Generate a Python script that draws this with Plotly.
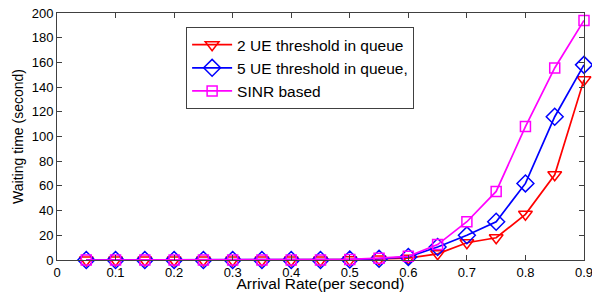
import plotly.graph_objects as go

arrival_rate = [0.05, 0.1, 0.15, 0.2, 0.25, 0.3, 0.35, 0.4, 0.45, 0.5, 0.55, 0.6, 0.65, 0.7, 0.75, 0.8, 0.85, 0.9]
ue2_threshold = [0, 0, 0, 0, 0, 0, 0, 0, 0, 0.3, 0.8, 1.5, 5, 14, 18, 37, 69, 146]
ue5_threshold = [0, 0, 0, 0, 0, 0, 0, 0, 0, 0.4, 1, 2.5, 10.5, 20, 31, 62, 116, 158]
sinr_based = [0, 0, 0, 0, 0, 0, 0, 0, 0, 0.5, 1.5, 3, 12.5, 31, 55.5, 108, 155.5, 194]

series_names = ["2 UE threshold in queue", "5 UE threshold in queue,", "SINR based"]
x_ticks = [0, 0.1, 0.2, 0.3, 0.4, 0.5, 0.6, 0.7, 0.8, 0.9]
x_tick_labels = ["0", "0.1", "0.2", "0.3", "0.4", "0.5", "0.6", "0.7", "0.8", "0.9"]
y_ticks = [0, 20, 40, 60, 80, 100, 120, 140, 160, 180, 200]

fig = go.Figure()
styles = [
    (ue2_threshold, "#ff0000", "triangle-down-open", 12),
    (ue5_threshold, "#0000ff", "diamond-open", 13),
    (sinr_based, "#ff00ff", "square-open", 10),
]
for (vals, color, sym, size), name in zip(styles, series_names):
    fig.add_trace(go.Scatter(
        x=arrival_rate, y=vals, name=name, mode="lines+markers",
        line=dict(color=color, width=1.7),
        marker=dict(symbol=sym, size=size, color=color, line=dict(color=color, width=1.5)),
        cliponaxis=False,
    ))

axis_common = dict(
    showgrid=False, zeroline=False, showline=True, linecolor="#404040", linewidth=1,
    mirror="ticks", ticks="inside", ticklen=5, tickcolor="#404040",
    tickfont=dict(size=13, color="#000000"), automargin=False,
    ticklabeloverflow="allow",
)
fig.update_layout(
    width=592, height=292,
    margin=dict(l=57, r=8, t=13, b=32),
    paper_bgcolor="white", plot_bgcolor="white",
    font=dict(family="Liberation Sans, Arial, sans-serif", size=13, color="#000000"),
    xaxis=dict(range=[0, 0.9], tickvals=x_ticks, ticktext=x_tick_labels,
               title=dict(text="Arrival Rate(per second)", font=dict(size=15.5), standoff=4),
               **axis_common),
    yaxis=dict(range=[0, 200], tickvals=y_ticks,
               title=dict(text="Waiting time (second)", font=dict(size=14), standoff=4),
               **axis_common),
    legend=dict(x=0.245, y=0.943, xanchor="left", yanchor="top",
                bgcolor="white", bordercolor="#404040", borderwidth=1,
                font=dict(size=15.5), tracegroupgap=0, itemwidth=40),
    showlegend=True,
)
fig.write_html("out.html", config={"displayModeBar": False},
               post_script="document.body.style.margin='0';")
